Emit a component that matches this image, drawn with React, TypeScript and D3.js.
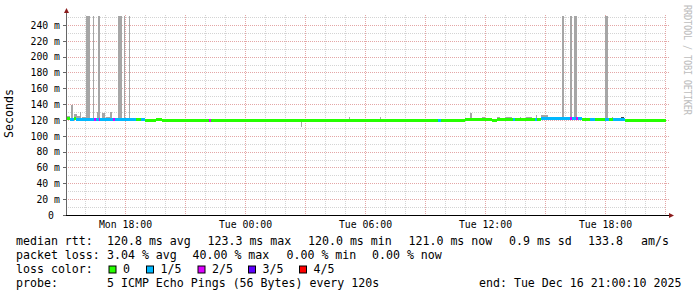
import React from "react";
import * as d3 from "d3";

const W = 697;
const H = 297;

// median segments: start (hours after Mon 15:00:10), median rtt (ms), loss (pings of 5)
const segStart = [0, 0.2, 0.4, 0.5, 1.4, 1.5, 1.65, 1.7, 2.35, 2.45, 3.5, 3.75, 3.95, 4.35, 4.5, 4.8, 7.15, 7.25, 18.6, 18.75, 19.95, 21.3, 21.55, 22.35, 22.45, 23.45, 23.55, 23.75, 25.2, 25.3, 25.5, 25.6, 25.8, 26.2, 26.45, 26.95, 27.15, 27.35, 27.95];
const segMedian = [122, 121.5, 122, 121, 121, 121, 121, 121, 121, 121, 121, 121, 119.5, 120, 121, 120, 120, 120, 120, 120, 121.5, 120.5, 121.5, 121, 121.5, 121.5, 121.5, 122, 122, 122, 122, 122, 121, 121.5, 121, 121.5, 121, 121.5, 120];
const segLoss = [0, 1, 0, 1, 2, 1, 2, 1, 2, 1, 0, 1, 0, 0, 0, 0, 2, 0, 1, 0, 0, 0, 0, 1, 0, 1, 0, 1, 2, 1, 2, 1, 0, 1, 0, 1, 0, 1, 0];
const endHour = 30;

// smoke (ping spread): start/end hours, low/high rtt in ms
const smokeStart = [0, 0.27, 0.4, 0.55, 0.68, 0.8, 1.0, 1.35, 1.53, 1.6, 1.8, 2.0, 2.2, 2.6, 2.9, 3.13, 11.75, 13.75, 14.15, 15.4, 15.7, 17.55, 19.2, 19.6, 20.2, 20.8, 21.55, 21.95, 22.7, 23.0, 23.5, 23.75, 24.8, 25.2, 25.4, 26.95, 27.3];
const smokeEnd = [0.2, 0.33, 0.55, 0.68, 0.75, 1.0, 1.22, 1.4, 1.6, 1.7, 1.93, 2.2, 2.3, 2.82, 2.94, 3.2, 11.8, 13.8, 14.2, 15.5, 15.75, 17.6, 19.33, 19.73, 20.3, 20.95, 21.7, 22.3, 22.75, 23.3, 23.55, 24.1, 24.92, 25.32, 25.55, 27.08, 27.35];
const smokeLow = [120, 120, 120, 120, 120, 120, 120, 120, 120, 120, 120, 120, 120, 120, 120, 120, 111.5, 120, 120, 120, 120, 120, 120, 120, 120, 120, 120, 120, 120, 120, 120, 120, 120, 120, 120, 120, 120];
const smokeHigh = [126, 140, 128, 126, 131, 125, 260, 260, 131, 260, 130, 125, 131, 260, 260, 260, 120, 122.5, 124.5, 122.5, 125, 122.5, 122.5, 122.5, 130, 124, 125, 125, 125, 125, 127, 127, 260, 260, 260, 260, 124];
// dense (dark) smoke
const darkStart = [27.73];
const darkEnd = [27.9];
const darkLow = [122];
const darkHigh = [125];

const yMax = 252.6;
const yTicks = [0, 20, 40, 60, 80, 100, 120, 140, 160, 180, 200, 220, 240];
const yTickLabels = ["0", "20 m", "40 m", "60 m", "80 m", "100 m", "120 m", "140 m", "160 m", "180 m", "200 m", "220 m", "240 m"];
const xTickHours = [3, 9, 15, 21, 27];
const xTickLabels = ["Mon 18:00", "Tue 00:00", "Tue 06:00", "Tue 12:00", "Tue 18:00"];
const startOffsetSec = 10;

const lossLabels = ["0", "1/5", "2/5", "3/5", "4/5"];
const lossColors = ["#26ff00", "#00b8ff", "#dd00ff", "#5e00ff", "#ff0000"];

const rttValues = [120.8, 123.3, 120.0, 121.0];
const rttNames = ["avg", "max", "min", "now"];
const rttSd = 0.9;
const rttAms = 133.8;
const lossValues = [3.04, 40.0, 0.0, 0.0];
const probeText = "5 ICMP Echo Pings (56 Bytes) every 120s";
const endText = "end: Tue Dec 16 21:00:10 2025";

const MONO = "'DejaVu Sans Mono', monospace";

export default function App() {
  const x = d3.scaleLinear().domain([0, endHour]).range([66, 666]);
  const y = d3.scaleLinear().domain([0, yMax]).range([215.5, 15.5]);
  const crisp = (v: number) => Math.floor(v) + 0.5;
  const gridHour = (h: number) => h - startOffsetSec / 3600;

  const vMinor: number[] = [];
  const vMajor: number[] = [];
  for (let k = 1; k <= endHour; k++) (k % 3 === 0 ? vMajor : vMinor).push(crisp(x(gridHour(k))));
  const hMinor: number[] = [];
  const hMajor: number[] = [];
  for (let v = 10; v <= yMax; v += 10) (v % 20 === 0 ? hMajor : hMinor).push(crisp(y(v)));

  const clampY = (v: number) => y(Math.min(v, yMax));

  const rowRtt = [
    { t: "median rtt:", x: 16 },
    { t: `${rttValues[0].toFixed(1)} ms ${rttNames[0]}`, x: 107 },
    { t: `${rttValues[1].toFixed(1)} ms ${rttNames[1]}`, x: 207.5 },
    { t: `${rttValues[2].toFixed(1)} ms ${rttNames[2]}`, x: 308 },
    { t: `${rttValues[3].toFixed(1)} ms ${rttNames[3]}`, x: 408.5 },
    { t: `${rttSd.toFixed(1)} ms sd`, x: 509 },
    { t: `${rttAms.toFixed(1)}`, x: 588 },
    { t: "am/s", x: 641 },
  ];
  const rowLoss = [
    { t: "packet loss:", x: 16 },
    { t: `${lossValues[0].toFixed(2)} % avg`, x: 107 },
    { t: `${lossValues[1].toFixed(2)} % max`, x: 192.5 },
    { t: `${lossValues[2].toFixed(2)} % min`, x: 286.5 },
    { t: `${lossValues[3].toFixed(2)} % now`, x: 372 },
  ];
  const swatchX = [108.5, 146, 197.5, 248, 299];

  return (
    <svg
      width={W}
      height={H}
      viewBox={`0 0 ${W} ${H}`}
      style={{ position: "absolute", left: 0, top: 0, display: "block", background: "#fff" }}
    >
      <rect x={0} y={0} width={W} height={H} fill="#fff" />
      {/* grid */}
      <g shapeRendering="crispEdges">
        {vMinor.map((gx, i) => (
          <line key={"vm" + i} x1={gx} x2={gx} y1={15} y2={215} stroke="#d4d4d4" strokeDasharray="1,1" />
        ))}
        {hMinor.map((gy, i) => (
          <line key={"hm" + i} x1={66} x2={666} y1={gy} y2={gy} stroke="#d4d4d4" strokeDasharray="1,1" />
        ))}
        {vMajor.map((gx, i) => (
          <line key={"vM" + i} x1={gx} x2={gx} y1={15} y2={215} stroke="#e4a6a6" strokeDasharray="1,1" />
        ))}
        {hMajor.map((gy, i) => (
          <line key={"hM" + i} x1={66} x2={669} y1={gy} y2={gy} stroke="#e4a6a6" strokeDasharray="1,1" />
        ))}
      </g>
      {/* smoke */}
      <g shapeRendering="crispEdges">
        {smokeStart.map((s, i) => {
          const x0 = Math.round(x(s));
          const x1 = Math.max(x0 + 1, Math.round(x(smokeEnd[i])));
          const yt = clampY(smokeHigh[i]);
          const yb = y(smokeLow[i]);
          return <rect key={"s" + i} x={x0} y={yt} width={x1 - x0} height={Math.max(1, yb - yt)} fill="#a6a6a6" />;
        })}
        {darkStart.map((s, i) => {
          const x0 = Math.round(x(s));
          const x1 = Math.round(x(darkEnd[i]));
          return <rect key={"d" + i} x={x0} y={y(darkHigh[i])} width={x1 - x0} height={y(darkLow[i]) - y(darkHigh[i])} fill="#3e4250" />;
        })}
      </g>
      {/* median band coloured by loss */}
      <g shapeRendering="crispEdges">
        {segStart.map((s, i) => {
          const e = i + 1 < segStart.length ? segStart[i + 1] : endHour;
          const x0 = Math.round(x(s));
          const x1 = Math.round(x(e));
          const cy = y(segMedian[i]);
          return <rect key={"m" + i} x={x0} y={cy - 1.5} width={x1 - x0} height={3} fill={lossColors[segLoss[i]]} />;
        })}
      </g>
      {/* axes */}
      <g shapeRendering="crispEdges">
        <line x1={66.5} x2={66.5} y1={10} y2={216} stroke="#666" />
        <line x1={63} x2={669} y1={215.5} y2={215.5} stroke="#000" />
        {yTicks.map((t, i) => (
          <line key={"yt" + i} x1={63} x2={66} y1={crisp(y(t))} y2={crisp(y(t))} stroke="#666" />
        ))}
      </g>
      <path d="M64,13 L69,13 L66.5,8 Z" fill="#8b1c1c" />
      <path d="M669,213 L669,218 L674,215.5 Z" fill="#8b1c1c" />
      {/* axis labels */}
      <g fontFamily={MONO} fontSize={9.8} fill="#000">
        {yTicks.map((t, i) => (
          <text key={"yl" + i} x={t === 0 ? 54 : 60} y={y(t) + 3.3} textAnchor="end">
            {yTickLabels[i]}
          </text>
        ))}
        {xTickHours.map((h, i) => (
          <text key={"xl" + i} x={crisp(x(gridHour(h)))} y={227.5} textAnchor="middle">
            {xTickLabels[i]}
          </text>
        ))}
      </g>
      <text
        fontFamily={MONO}
        fontSize={11.6}
        fill="#000"
        textAnchor="middle"
        transform="translate(13.3,113.5) rotate(-90)"
      >
        Seconds
      </text>
      <text
        fontFamily={MONO}
        fontSize={8.6}
        fill="#bdbdbd"
        textLength={110}
        lengthAdjust="spacing"
        transform="translate(684,5) rotate(90) scale(1,1.2)"
      >
        RRDTOOL / TOBI OETIKER
      </text>
      {/* legend */}
      <g fontFamily={MONO} fontSize={11.6} fill="#000" style={{ whiteSpace: "pre" }}>
        {rowRtt.map((it, i) => (
          <text key={"r1" + i} x={it.x} y={245}>
            {it.t}
          </text>
        ))}
        {rowLoss.map((it, i) => (
          <text key={"r2" + i} x={it.x} y={259}>
            {it.t}
          </text>
        ))}
        <text x={16} y={273}>loss color:</text>
        {lossLabels.map((l, i) => (
          <g key={"lc" + i}>
            <rect x={swatchX[i] + 0.5} y={266} width={7} height={7} fill={lossColors[i]} stroke="#000" strokeWidth={1} />
            <text x={swatchX[i] + 14.5} y={273}>
              {l}
            </text>
          </g>
        ))}
        <text x={16} y={287}>probe:</text>
        <text x={107} y={287}>{probeText}</text>
        <text x={479} y={287}>{endText}</text>
      </g>
    </svg>
  );
}
